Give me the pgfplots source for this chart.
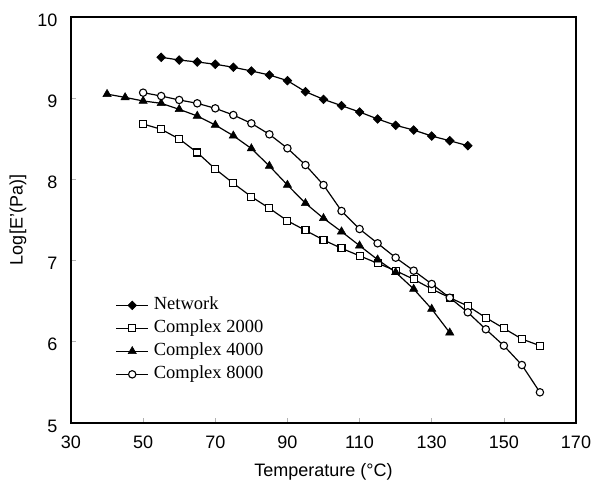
\documentclass[border=0pt]{standalone}
\usepackage{fontspec}
\setmainfont{Liberation Serif}
\setsansfont{Liberation Sans}
\usepackage{pgfplots}
\pgfplotsset{compat=1.18}
\begin{document}
\begin{tikzpicture}
\begin{axis}[
  scale only axis,
  width=505pt, height=406pt,
  xmin=30, xmax=170, ymin=5, ymax=10,
  xtick={30,50,...,170}, ytick={5,6,...,10},
  axis line style={black, line width=1.3pt},
  tick align=inside, xtick pos=left, ytick pos=left,
  major tick length=5pt,
  tick style={gray!60, line width=0.6pt},
  /pgf/number format/assume math mode=true,
  ticklabel style={font=\sffamily\fontsize{18}{21}\selectfont},
  xticklabel shift=9pt,
  yticklabel shift=10pt,
  yticklabel style={yshift=-3pt},
  xlabel={Temperature (°C)},
  ylabel={Log[E'(Pa)]},
  label style={font=\sffamily\fontsize{18}{21}\selectfont},
  xlabel style={at={(axis description cs:0.5,-0.133)}, anchor=base},
  ylabel style={at={(axis description cs:-0.105,0.5)}, anchor=center},
  every axis plot/.append style={black, line width=1.2pt},
  legend style={at={(axis description cs:0.088,0.310)}, anchor=north west,
    draw=none, fill=none, inner sep=0pt, row sep=7pt, column sep=5pt,
    font=\rmfamily\fontsize{18.5}{21}\selectfont,
    nodes={inner sep=0pt, text height=12pt, text depth=4pt}},
  legend cell align=left,
  legend image code/.code={\draw[mark repeat=2,mark phase=2] plot coordinates {(0pt,0pt) (16pt,0pt) (32pt,0pt)};},
]
\addplot[mark=square*, mark size=3pt, mark options={rotate=45, fill=black, line width=0.8pt}] coordinates {
(55,9.504) (60,9.470) (65,9.446) (70,9.418) (75,9.381) (80,9.335) (85,9.286) (90,9.216)
(95,9.080) (100,8.986) (105,8.908) (110,8.830) (115,8.744) (120,8.666) (125,8.608)
(130,8.534) (135,8.476) (140,8.415)};
\addlegendentry{Network}
\addplot[mark=square*, mark size=3.5pt, mark options={fill=white, line width=1.1pt}] coordinates {
(50,8.682) (55,8.617) (60,8.498) (65,8.331) (70,8.128) (75,7.952) (80,7.787) (85,7.644)
(90,7.490) (95,7.372) (100,7.254) (105,7.151) (110,7.059) (115,6.967) (120,6.876)
(125,6.770) (130,6.650) (135,6.543) (140,6.441) (145,6.297) (150,6.166) (155,6.034) (160,5.952)};
\addlegendentry{Complex 2000}
\addplot[mark=triangle*, mark size=4.8pt, mark options={fill=black, line width=0.5pt}] coordinates {
(40,9.05) (45,9.01) (50,8.966) (55,8.937) (60,8.863) (65,8.781) (70,8.670) (75,8.538)
(80,8.38) (85,8.165) (90,7.931) (95,7.706) (100,7.521) (105,7.357) (110,7.184)
(115,7.012) (120,6.856) (125,6.650) (130,6.404) (135,6.112)};
\addlegendentry{Complex 4000}
\addplot[mark=*, mark size=3.7pt, mark options={fill=white, line width=1.1pt}] coordinates {
(50,9.068) (55,9.027) (60,8.978) (65,8.937) (70,8.875) (75,8.793) (80,8.690) (85,8.555)
(90,8.383) (95,8.177) (100,7.931) (105,7.611) (110,7.389) (115,7.213) (120,7.036)
(125,6.876) (130,6.712) (135,6.543) (140,6.363) (145,6.154) (150,5.952) (155,5.714) (160,5.378)};
\addlegendentry{Complex 8000}
\end{axis}
\pgfresetboundingbox
\useasboundingbox ([xshift=-71pt,yshift=-61pt]current axis.south west) rectangle ([xshift=18pt,yshift=17pt]current axis.north east);
\end{tikzpicture}
\end{document}
